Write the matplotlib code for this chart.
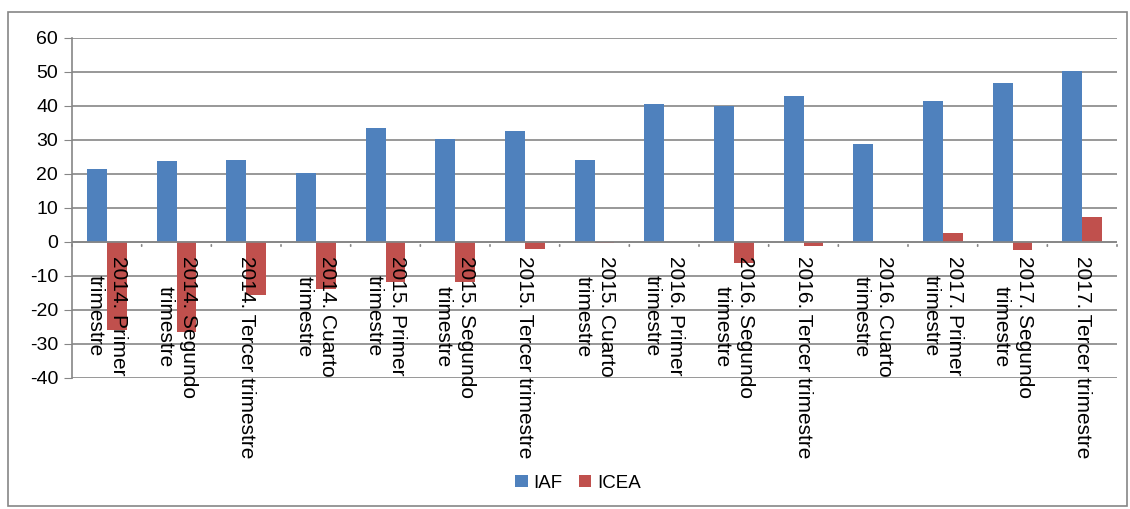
import matplotlib
matplotlib.use("Agg")
import matplotlib.pyplot as plt
from matplotlib.patches import Rectangle
from matplotlib.transforms import offset_copy
import numpy as np

plt.rcParams['font.family'] = ['Liberation Sans', 'DejaVu Sans']

categories = ["2014. Primer\ntrimestre", "2014. Segundo\ntrimestre", "2014. Tercer trimestre",
              "2014. Cuarto\ntrimestre", "2015. Primer\ntrimestre", "2015. Segundo\ntrimestre",
              "2015. Tercer trimestre", "2015. Cuarto\ntrimestre", "2016. Primer\ntrimestre",
              "2016. Segundo\ntrimestre", "2016. Tercer trimestre", "2016. Cuarto\ntrimestre",
              "2017. Primer\ntrimestre", "2017. Segundo\ntrimestre", "2017. Tercer trimestre"]
iaf = [21.6, 23.9, 24.0, 20.4, 33.5, 30.4, 32.6, 24.1, 40.6, 40.0, 43.0, 28.7, 41.6, 46.7, 50.2]
icea = [-26.0, -26.6, -15.6, -13.8, -11.9, -11.8, -2.1, -0.4, 0.0, -6.3, -1.3, 0.0, 2.6, -2.4, 7.4]
series_names = ["IAF", "ICEA"]
yticks = list(range(-40, 61, 10))

W, H = 1130, 509
fig = plt.figure(figsize=(W / 100, H / 100), dpi=100)
ax = fig.add_axes([72 / W, 1 - 378 / H, (1117 - 72) / W, (378 - 38) / H])

x = np.arange(len(categories))
bw = 0.287
b1 = ax.bar(x - bw / 2, iaf, bw, color="#4F81BD", label=series_names[0], zorder=3)
b2 = ax.bar(x + bw / 2, icea, bw, color="#C0504D", label=series_names[1], zorder=3)

ax.set_xlim(-0.5, len(categories) - 0.5)
ax.set_ylim(-40, 60)
ax.set_yticks(yticks)
ax.set_yticklabels([str(t) for t in yticks], fontsize=14)
ax.tick_params(axis='y', length=6, color="#868686", pad=4)
ax.yaxis.grid(True, color="#868686", linewidth=1.2, zorder=0)
ax.set_axisbelow(True)
for s in ['top', 'right', 'bottom']:
    ax.spines[s].set_visible(False)
ax.spines['left'].set_color("#868686")
ax.spines['left'].set_linewidth(1.2)
ax.set_xticks([])

# zero axis line with ticks
ax.axhline(0, color="#868686", linewidth=1.2, zorder=4)
for b in np.arange(-0.5, len(categories) + 0.5, 1.0):
    ax.annotate("", xy=(b, 0), xytext=(0, -7), textcoords='offset pixels',
                arrowprops=dict(arrowstyle='-', color="#868686", lw=1.2), zorder=4)

# category labels
tr = offset_copy(ax.transData, fig=fig, x=0, y=-14, units='dots')
for xi, lab in zip(x, categories):
    ax.text(xi, 0, lab, rotation=-90, ha='center', va='top', multialignment='center',
            fontsize=15, transform=tr, zorder=5, linespacing=1.3)

leg = fig.legend(handles=[b1, b2], labels=series_names, loc='center', bbox_to_anchor=(578 / W, 1 - 483 / H),
                 ncol=2, frameon=False, fontsize=13.5, handlelength=0.65, handleheight=0.65,
                 columnspacing=0.9, handletextpad=0.3)

fig.patches.append(Rectangle((8 / W, 1 - 506 / H), (1127 - 8) / W, (506 - 12) / H,
                             transform=fig.transFigure, fill=False, edgecolor="#868686", linewidth=1.2))

fig.savefig("out.png", dpi=100)
